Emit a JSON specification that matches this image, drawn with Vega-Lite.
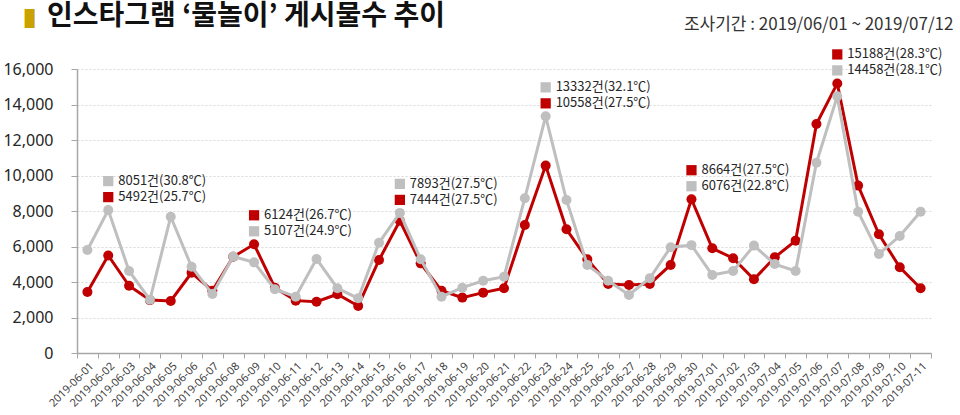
{
  "$schema": "https://vega.github.io/schema/vega-lite/v6.json",
  "width": 854,
  "height": 284,
  "autosize": {"type": "none"},
  "padding": {"left": 77, "top": 69, "right": 29, "bottom": 62},
  "background": "white",
  "config": {
    "view": {"stroke": null},
    "font": "Noto Sans CJK KR"
  },
  "title": {
    "text": "인스타그램 ‘물놀이’ 게시물수 추이",
    "anchor": "start",
    "frame": "group",
    "dx": -30,
    "dy": 21,
    "offset": 0,
    "fontSize": 28,
    "fontWeight": "bold",
    "font": "Noto Sans CJK KR",
    "color": "#111111"
  },
  "datasets": {
    "counts": [
      {"date": "2019-06-01", "series": "2019", "value": 3440}, {"date": "2019-06-01", "series": "2018", "value": 5800},
      {"date": "2019-06-02", "series": "2019", "value": 5492}, {"date": "2019-06-02", "series": "2018", "value": 8051},
      {"date": "2019-06-03", "series": "2019", "value": 3790}, {"date": "2019-06-03", "series": "2018", "value": 4620},
      {"date": "2019-06-04", "series": "2019", "value": 2980}, {"date": "2019-06-04", "series": "2018", "value": 3000},
      {"date": "2019-06-05", "series": "2019", "value": 2930}, {"date": "2019-06-05", "series": "2018", "value": 7680},
      {"date": "2019-06-06", "series": "2019", "value": 4520}, {"date": "2019-06-06", "series": "2018", "value": 4860},
      {"date": "2019-06-07", "series": "2019", "value": 3510}, {"date": "2019-06-07", "series": "2018", "value": 3320},
      {"date": "2019-06-08", "series": "2019", "value": 5420}, {"date": "2019-06-08", "series": "2018", "value": 5430},
      {"date": "2019-06-09", "series": "2019", "value": 6124}, {"date": "2019-06-09", "series": "2018", "value": 5107},
      {"date": "2019-06-10", "series": "2019", "value": 3680}, {"date": "2019-06-10", "series": "2018", "value": 3590},
      {"date": "2019-06-11", "series": "2019", "value": 2950}, {"date": "2019-06-11", "series": "2018", "value": 3170},
      {"date": "2019-06-12", "series": "2019", "value": 2890}, {"date": "2019-06-12", "series": "2018", "value": 5300},
      {"date": "2019-06-13", "series": "2019", "value": 3310}, {"date": "2019-06-13", "series": "2018", "value": 3650},
      {"date": "2019-06-14", "series": "2019", "value": 2650}, {"date": "2019-06-14", "series": "2018", "value": 3080},
      {"date": "2019-06-15", "series": "2019", "value": 5240}, {"date": "2019-06-15", "series": "2018", "value": 6210},
      {"date": "2019-06-16", "series": "2019", "value": 7444}, {"date": "2019-06-16", "series": "2018", "value": 7893},
      {"date": "2019-06-17", "series": "2019", "value": 5050}, {"date": "2019-06-17", "series": "2018", "value": 5280},
      {"date": "2019-06-18", "series": "2019", "value": 3510}, {"date": "2019-06-18", "series": "2018", "value": 3170},
      {"date": "2019-06-19", "series": "2019", "value": 3120}, {"date": "2019-06-19", "series": "2018", "value": 3680},
      {"date": "2019-06-20", "series": "2019", "value": 3400}, {"date": "2019-06-20", "series": "2018", "value": 4070},
      {"date": "2019-06-21", "series": "2019", "value": 3650}, {"date": "2019-06-21", "series": "2018", "value": 4300},
      {"date": "2019-06-22", "series": "2019", "value": 7210}, {"date": "2019-06-22", "series": "2018", "value": 8720},
      {"date": "2019-06-23", "series": "2019", "value": 10558}, {"date": "2019-06-23", "series": "2018", "value": 13332},
      {"date": "2019-06-24", "series": "2019", "value": 6970}, {"date": "2019-06-24", "series": "2018", "value": 8620},
      {"date": "2019-06-25", "series": "2019", "value": 5280}, {"date": "2019-06-25", "series": "2018", "value": 4960},
      {"date": "2019-06-26", "series": "2019", "value": 3890}, {"date": "2019-06-26", "series": "2018", "value": 4070},
      {"date": "2019-06-27", "series": "2019", "value": 3830}, {"date": "2019-06-27", "series": "2018", "value": 3270},
      {"date": "2019-06-28", "series": "2019", "value": 3890}, {"date": "2019-06-28", "series": "2018", "value": 4210},
      {"date": "2019-06-29", "series": "2019", "value": 4960}, {"date": "2019-06-29", "series": "2018", "value": 5960},
      {"date": "2019-06-30", "series": "2019", "value": 8664}, {"date": "2019-06-30", "series": "2018", "value": 6076},
      {"date": "2019-07-01", "series": "2019", "value": 5900}, {"date": "2019-07-01", "series": "2018", "value": 4390},
      {"date": "2019-07-02", "series": "2019", "value": 5340}, {"date": "2019-07-02", "series": "2018", "value": 4620},
      {"date": "2019-07-03", "series": "2019", "value": 4150}, {"date": "2019-07-03", "series": "2018", "value": 6050},
      {"date": "2019-07-04", "series": "2019", "value": 5390}, {"date": "2019-07-04", "series": "2018", "value": 5010},
      {"date": "2019-07-05", "series": "2019", "value": 6330}, {"date": "2019-07-05", "series": "2018", "value": 4620},
      {"date": "2019-07-06", "series": "2019", "value": 12900}, {"date": "2019-07-06", "series": "2018", "value": 10720},
      {"date": "2019-07-07", "series": "2019", "value": 15188}, {"date": "2019-07-07", "series": "2018", "value": 14458},
      {"date": "2019-07-08", "series": "2019", "value": 9430}, {"date": "2019-07-08", "series": "2018", "value": 7960},
      {"date": "2019-07-09", "series": "2019", "value": 6690}, {"date": "2019-07-09", "series": "2018", "value": 5580},
      {"date": "2019-07-10", "series": "2019", "value": 4830}, {"date": "2019-07-10", "series": "2018", "value": 6590},
      {"date": "2019-07-11", "series": "2019", "value": 3650}, {"date": "2019-07-11", "series": "2018", "value": 7960}
    ],
    "notes": [
      {"date": "2019-06-02", "series": "2018", "value": 8051, "note": "8051건(30.8℃)"},
      {"date": "2019-06-02", "series": "2019", "value": 5492, "note": "5492건(25.7℃)"},
      {"date": "2019-06-09", "series": "2019", "value": 6124, "note": "6124건(26.7℃)"},
      {"date": "2019-06-09", "series": "2018", "value": 5107, "note": "5107건(24.9℃)"},
      {"date": "2019-06-16", "series": "2018", "value": 7893, "note": "7893건(27.5℃)"},
      {"date": "2019-06-16", "series": "2019", "value": 7444, "note": "7444건(27.5℃)"},
      {"date": "2019-06-23", "series": "2018", "value": 13332, "note": "13332건(32.1℃)"},
      {"date": "2019-06-23", "series": "2019", "value": 10558, "note": "10558건(27.5℃)"},
      {"date": "2019-06-30", "series": "2019", "value": 8664, "note": "8664건(27.5℃)"},
      {"date": "2019-06-30", "series": "2018", "value": 6076, "note": "6076건(22.8℃)"},
      {"date": "2019-07-07", "series": "2019", "value": 15188, "note": "15188건(28.3℃)"},
      {"date": "2019-07-07", "series": "2018", "value": 14458, "note": "14458건(28.1℃)"}
    ]
  },
  "encoding": {
    "x": {
      "field": "date",
      "type": "ordinal",
      "sort": null,
      "scale": {"type": "band", "paddingInner": 0, "paddingOuter": 0},
      "axis": {
        "title": "█",
        "titleColor": "#C9A100",
        "titleFont": "DejaVu Sans Mono",
        "titleFontSize": 16,
        "titleFontWeight": "normal",
        "titleAngle": 0,
        "titleAlign": "center",
        "titleBaseline": "middle",
        "titleX": -48,
        "titleY": -335,
        "labelAngle": -45,
        "labelFont": "Noto Sans",
        "labelFontSize": 11,
        "labelColor": "#404040",
        "labelPadding": 2,
        "tickBand": "extent",
        "tickSize": 5,
        "tickColor": "#A6A6A6",
        "domainColor": "#A6A6A6",
        "domainWidth": 1.5,
        "grid": false
      }
    },
    "y": {
      "field": "value",
      "type": "quantitative",
      "scale": {"domain": [0, 16000]},
      "axis": {
        "title": "조사기간 : 2019/06/01 ~ 2019/07/12",
        "titleColor": "#333333",
        "titleFont": "Noto Sans CJK KR",
        "titleFontSize": 17,
        "titleFontWeight": "normal",
        "titleAngle": 0,
        "titleAlign": "right",
        "titleBaseline": "middle",
        "titleX": 876,
        "titleY": -45,
        "values": [0, 2000, 4000, 6000, 8000, 10000, 12000, 14000, 16000],
        "format": ",d",
        "labelFont": "Noto Sans",
        "labelFontSize": 16,
        "labelColor": "#262626",
        "labelPadding": 18,
        "tickSize": 6,
        "tickColor": "#A6A6A6",
        "domainColor": "#A6A6A6",
        "domainWidth": 1.5,
        "grid": true,
        "gridColor": "#D9D9D9",
        "gridDash": [2, 2]
      }
    },
    "color": {
      "field": "series",
      "type": "nominal",
      "scale": {"domain": ["2019", "2018"], "range": ["#C00000", "#BFBFBF"]},
      "legend": null
    }
  },
  "layer": [
    {
      "data": {"name": "counts"},
      "transform": [{"filter": "datum.series === '2019'"}],
      "mark": {"type": "line", "strokeWidth": 3, "point": {"filled": true, "size": 100}}
    },
    {
      "data": {"name": "counts"},
      "transform": [{"filter": "datum.series === '2018'"}],
      "mark": {"type": "line", "strokeWidth": 3, "point": {"filled": true, "size": 100}}
    },
    {
      "data": {"name": "notes"},
      "transform": [
        {"joinaggregate": [{"op": "max", "field": "value", "as": "peak"}], "groupby": ["date"]},
        {"window": [{"op": "rank", "as": "rk"}], "sort": [{"field": "value", "order": "descending"}], "groupby": ["date"]}
      ],
      "encoding": {
        "y": {"field": "peak", "type": "quantitative"}
      },
      "layer": [
        {
          "transform": [{"filter": "datum.rk === 1"}],
          "mark": {"type": "point", "shape": "square", "filled": true, "opacity": 1, "size": 105, "yOffset": -29}
        },
        {
          "transform": [{"filter": "datum.rk === 2"}],
          "mark": {"type": "point", "shape": "square", "filled": true, "opacity": 1, "size": 105, "yOffset": -13}
        },
        {
          "transform": [{"filter": "datum.rk === 1"}],
          "mark": {"type": "text", "align": "left", "baseline": "middle", "dx": 10, "dy": -29, "fontSize": 13, "font": "Noto Sans CJK KR"},
          "encoding": {"text": {"field": "note"}, "color": {"value": "#262626"}}
        },
        {
          "transform": [{"filter": "datum.rk === 2"}],
          "mark": {"type": "text", "align": "left", "baseline": "middle", "dx": 10, "dy": -13, "fontSize": 13, "font": "Noto Sans CJK KR"},
          "encoding": {"text": {"field": "note"}, "color": {"value": "#262626"}}
        }
      ]
    }
  ]
}
